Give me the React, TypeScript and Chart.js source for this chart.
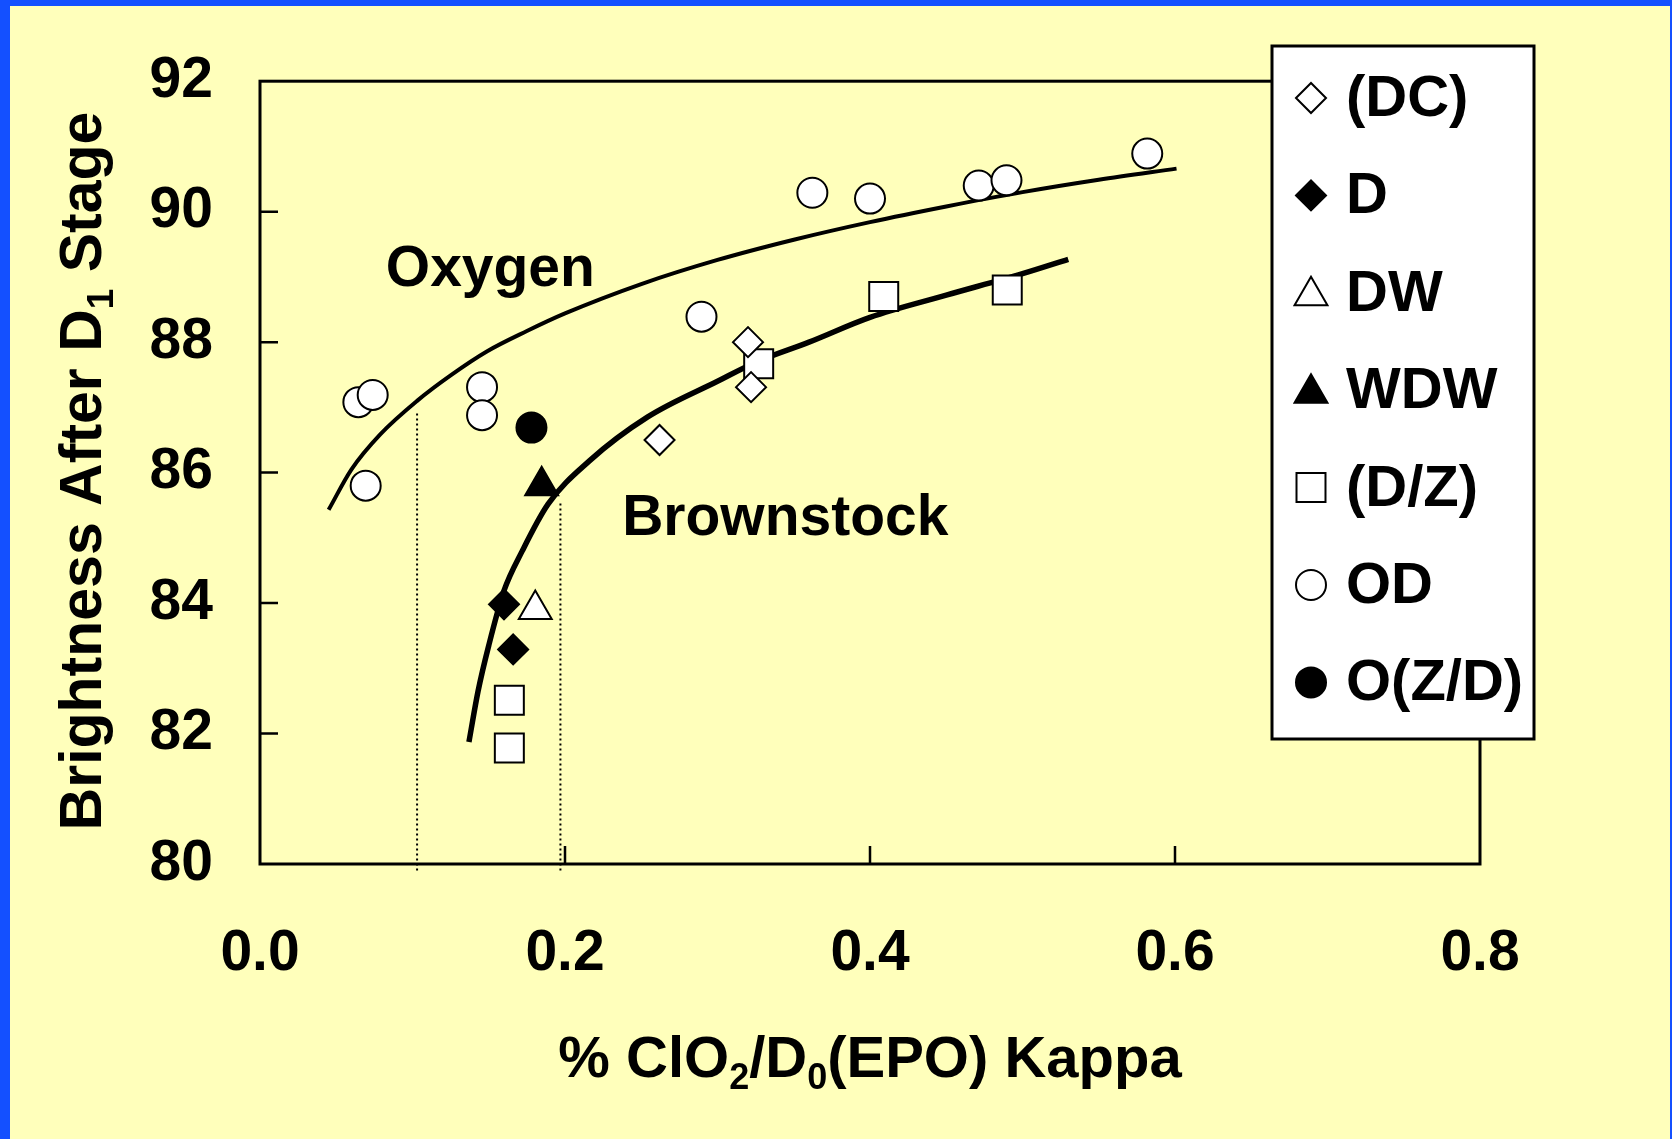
import React, { useEffect, useRef } from 'react';
import { Chart, registerables } from 'chart.js';
import { drawPoint } from 'chart.js/helpers';

Chart.register(...registerables);

const W = 1672;
const H = 1139;
const FONT = '"Liberation Sans", Arial, Helvetica, sans-serif';
const BG = '#ffffbb';
const EDGE_BLUE = '#1450ff';

// D1 brightness vs ClO2 charge on D0 (EPO) kappa, by bleaching sequence
const dcKappa = [0.262, 0.320, 0.322];
const dcBright = [86.5, 88.0, 87.31];
const dKappa = [0.160, 0.166];
const dBright = [83.98, 83.29];
const dwKappa = [0.1805];
const dwBright = [83.9];
const wdwKappa = [0.1847];
const wdwBright = [85.8];
const dzKappa = [0.1635, 0.1635, 0.327, 0.409, 0.490];
const dzBright = [82.51, 81.78, 87.67, 88.7, 88.8];
const odKappa = [0.0645, 0.0739, 0.0693, 0.1456, 0.1456, 0.2895, 0.3622, 0.4, 0.4713, 0.4895, 0.5818];
const odBright = [87.08, 87.19, 85.8, 87.31, 86.88, 88.39, 90.29, 90.2, 90.4, 90.48, 90.89];
const ozdKappa = [0.178];
const ozdBright = [86.69];

const seriesNames = ['(DC)', 'D', 'DW', 'WDW', '(D/Z)', 'OD', 'O(Z/D)'];

// Trend curves
const oxygenKappa = [0.045, 0.06, 0.079, 0.103, 0.125, 0.149, 0.175, 0.2, 0.25, 0.3, 0.35, 0.4, 0.45, 0.5, 0.55, 0.601];
const oxygenBright = [85.43, 86.05, 86.59, 87.1, 87.49, 87.86, 88.17, 88.44, 88.89, 89.26, 89.57, 89.84, 90.08, 90.3, 90.49, 90.66];
const brownKappa = [0.137, 0.143, 0.15, 0.16, 0.172, 0.189, 0.216, 0.254, 0.3, 0.327, 0.36, 0.4, 0.45, 0.5, 0.53];
const brownBright = [81.87, 82.65, 83.35, 84.19, 84.8, 85.52, 86.18, 86.85, 87.4, 87.71, 88.0, 88.38, 88.72, 89.05, 89.27];

// Dotted drop lines from each curve down to the axis
const dropKappa = [0.103, 0.197];
const dropTop = [86.95, 85.57];
const dropBase = 79.9;

// Curve captions: text, kappa at left edge, brightness at baseline
const captionText = ['Oxygen', 'Brownstock'];
const captionKappa = [0.0825, 0.2375];
const captionBright = [88.86, 85.04];

const xTicks = [0, 0.2, 0.4, 0.6, 0.8];
const yTicks = [80, 82, 84, 86, 88, 90, 92];

const pts = (xs: number[], ys: number[]) => xs.map((x, i) => ({ x, y: ys[i] }));

type Marker = { style: string; radius: number; fill: string };
const markers: Marker[] = [
  { style: 'rectRot', radius: 15, fill: '#ffffff' },
  { style: 'rectRot', radius: 15, fill: '#000000' },
  { style: 'triangle', radius: 19, fill: '#ffffff' },
  { style: 'triangle', radius: 19, fill: '#000000' },
  { style: 'rect', radius: 20.5, fill: '#ffffff' },
  { style: 'circle', radius: 15, fill: '#ffffff' },
  { style: 'circle', radius: 15, fill: '#000000' },
];

const seriesData = [
  pts(dcKappa, dcBright),
  pts(dKappa, dBright),
  pts(dwKappa, dwBright),
  pts(wdwKappa, wdwBright),
  pts(dzKappa, dzBright),
  pts(odKappa, odBright),
  pts(ozdKappa, ozdBright),
];

function drawSubText(
  ctx: CanvasRenderingContext2D,
  parts: [string, boolean][],
  size: number,
  cx: number,
  baseline: number
) {
  const main = `bold ${size}px ${FONT}`;
  const sub = `bold ${Math.round(size * 0.62)}px ${FONT}`;
  let total = 0;
  for (const [t, s] of parts) {
    ctx.font = s ? sub : main;
    total += ctx.measureText(t).width;
  }
  let x = cx - total / 2;
  ctx.textAlign = 'left';
  ctx.textBaseline = 'alphabetic';
  for (const [t, s] of parts) {
    ctx.font = s ? sub : main;
    ctx.fillText(t, x, s ? baseline + size * 0.2 : baseline);
    x += ctx.measureText(t).width;
  }
}

const decorPlugin = {
  id: 'decor',
  beforeDraw(chart: any) {
    const ctx = chart.ctx as CanvasRenderingContext2D;
    ctx.save();
    ctx.fillStyle = EDGE_BLUE;
    ctx.fillRect(0, 0, W, H);
    ctx.fillStyle = BG;
    ctx.fillRect(10, 6, W - 12, H - 6);
    ctx.restore();
  },
  afterDraw(chart: any) {
    const ctx = chart.ctx as CanvasRenderingContext2D;
    const { left, right, top, bottom } = chart.chartArea;
    const xs = chart.scales.x;
    const ys = chart.scales.y;
    ctx.save();

    // plot frame
    ctx.strokeStyle = '#000';
    ctx.lineWidth = 3;
    ctx.lineCap = 'square';
    ctx.strokeRect(left, top, right - left, bottom - top);

    // inward tick marks
    ctx.lineWidth = 2.5;
    ctx.lineCap = 'butt';
    ctx.beginPath();
    for (const v of yTicks.slice(1, -1)) {
      const y = ys.getPixelForValue(v);
      ctx.moveTo(left, y);
      ctx.lineTo(left + 18, y);
    }
    for (const v of xTicks.slice(1, -1)) {
      const x = xs.getPixelForValue(v);
      ctx.moveTo(x, bottom);
      ctx.lineTo(x, bottom - 18);
    }
    ctx.stroke();

    // curve captions
    ctx.fillStyle = '#000';
    ctx.font = `bold 57px ${FONT}`;
    ctx.textAlign = 'left';
    ctx.textBaseline = 'alphabetic';
    captionText.forEach((t, i) => {
      ctx.fillText(t, xs.getPixelForValue(captionKappa[i]), ys.getPixelForValue(captionBright[i]));
    });

    // axis titles
    drawSubText(ctx, [['% ClO', false], ['2', true], ['/D', false], ['0', true], ['(EPO) Kappa', false]], 58, 870, 1077);
    ctx.save();
    ctx.translate(101, 471);
    ctx.rotate(-Math.PI / 2);
    drawSubText(ctx, [['Brightness After D', false], ['1', true], [' Stage', false]], 59, 0, 0);
    ctx.restore();

    // legend box
    const lx = 1272, ly = 46, lw = 262, lh = 693;
    ctx.fillStyle = '#fff';
    ctx.fillRect(lx, ly, lw, lh);
    ctx.strokeStyle = '#000';
    ctx.lineWidth = 3;
    ctx.strokeRect(lx, ly, lw, lh);
    seriesNames.forEach((name, i) => {
      const cy = 98 + i * 97.4;
      const m = markers[i];
      ctx.fillStyle = m.fill;
      ctx.strokeStyle = '#000';
      ctx.lineWidth = 2;
      drawPoint(ctx, { pointStyle: m.style as any, radius: m.radius, rotation: 0, borderWidth: 2 }, 1311, cy + (m.style === 'triangle' ? 3 : 0));
      ctx.fillStyle = '#000';
      ctx.font = `bold 58px ${FONT}`;
      ctx.textAlign = 'left';
      ctx.textBaseline = 'middle';
      ctx.fillText(name, 1346, cy + 2);
    });
    ctx.restore();
  },
};

export default function App() {
  const ref = useRef<HTMLCanvasElement | null>(null);

  useEffect(() => {
    if (!ref.current) return;
    const tickFont = { family: FONT, size: 57, weight: 'bold' as const };

    const scatterSets = seriesData.map((data, i) => ({
      label: seriesNames[i],
      data,
      showLine: false,
      pointStyle: markers[i].style,
      pointRadius: markers[i].radius,
      pointBackgroundColor: markers[i].fill,
      pointBorderColor: '#000',
      pointBorderWidth: 2,
      order: 1,
    }));

    const curveSets = [
      { label: 'Oxygen', data: pts(oxygenKappa, oxygenBright), borderWidth: 4 },
      { label: 'Brownstock', data: pts(brownKappa, brownBright), borderWidth: 5.5 },
    ].map((c) => ({
      ...c,
      showLine: true,
      borderColor: '#000',
      pointRadius: 0,
      cubicInterpolationMode: 'monotone' as const,
      order: 2,
    }));

    const dropSets = dropKappa.map((k, i) => ({
      label: `drop ${i}`,
      data: [
        { x: k, y: dropBase },
        { x: k, y: dropTop[i] },
      ],
      showLine: true,
      borderColor: '#000',
      borderWidth: 2,
      borderDash: [2, 3],
      pointRadius: 0,
      clip: false as const,
      order: 3,
    }));

    const chart = new Chart(ref.current, {
      type: 'scatter',
      data: { datasets: [...scatterSets, ...curveSets, ...dropSets] as any },
      options: {
        animation: false,
        responsive: false,
        maintainAspectRatio: false,
        devicePixelRatio: 1,
        layout: { padding: { left: 0, top: 80, right: 192, bottom: 0 } },
        plugins: { legend: { display: false }, tooltip: { enabled: false } },
        scales: {
          x: {
            type: 'linear',
            min: 0,
            max: 0.8,
            grid: { display: false, drawTicks: false },
            border: { display: false },
            afterFit: (s: any) => {
              s.height = 275;
            },
            afterBuildTicks: (s: any) => {
              s.ticks = xTicks.map((value) => ({ value }));
            },
            ticks: {
              color: '#000',
              font: tickFont,
              padding: 56,
              maxRotation: 0,
              callback: (v: any) => Number(v).toFixed(1),
            },
          },
          y: {
            type: 'linear',
            min: 80,
            max: 92,
            grid: { display: false, drawTicks: false },
            border: { display: false },
            afterFit: (s: any) => {
              s.width = 260;
            },
            afterBuildTicks: (s: any) => {
              s.ticks = yTicks.map((value) => ({ value }));
            },
            ticks: {
              color: '#000',
              font: tickFont,
              padding: 47,
              callback: (v: any) => Number(v).toFixed(0),
            },
          },
        },
      },
      plugins: [decorPlugin],
    });

    return () => chart.destroy();
  }, []);

  return (
    <div style={{ position: 'fixed', left: 0, top: 0, width: W, height: H }}>
      <canvas ref={ref} width={W} height={H} style={{ display: 'block' }} />
    </div>
  );
}
